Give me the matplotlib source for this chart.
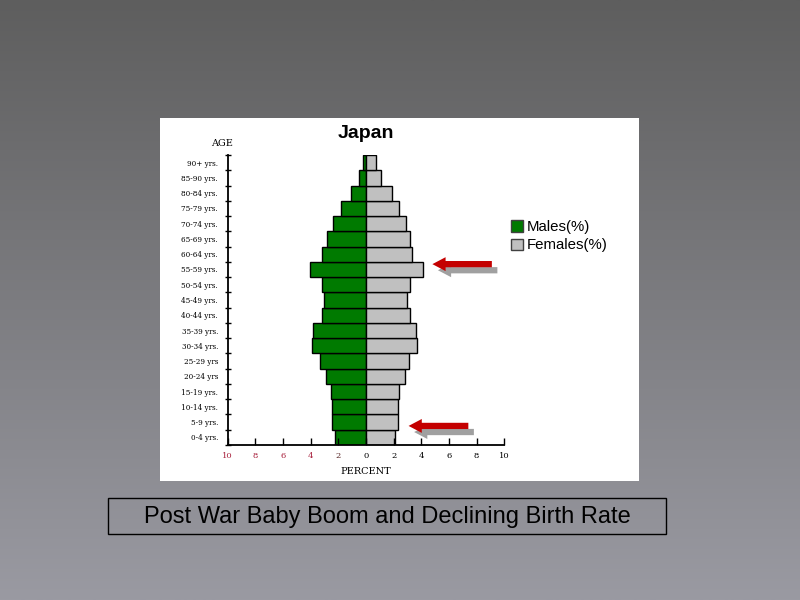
import numpy as np
import matplotlib
matplotlib.use("Agg")
import matplotlib.pyplot as plt
from matplotlib.patches import Rectangle, Patch
from matplotlib.colors import LinearSegmentedColormap

# age groups from youngest to oldest
AGES = ["0-4 yrs.", "5-9 yrs.", "10-14 yrs.", "15-19 yrs.", "20-24 yrs", "25-29 yrs",
        "30-34 yrs.", "35-39 yrs.", "40-44 yrs.", "45-49 yrs.", "50-54 yrs.", "55-59 yrs.",
        "60-64 yrs.", "65-69 yrs.", "70-74 yrs.", "75-79 yrs.", "80-84 yrs.", "85-90 yrs.",
        "90+ yrs."]
MALES = [2.25, 2.45, 2.45, 2.55, 2.9, 3.3, 3.9, 3.85, 3.2, 3.05, 3.2, 4.05,
         3.2, 2.85, 2.4, 1.8, 1.1, 0.5, 0.25]
FEMALES = [2.1, 2.3, 2.3, 2.4, 2.8, 3.1, 3.7, 3.65, 3.15, 3.0, 3.2, 4.15,
           3.35, 3.15, 2.9, 2.4, 1.85, 1.1, 0.75]
XTICKS = [-10, -8, -6, -4, -2, 0, 2, 4, 6, 8, 10]
# arrows: (tip x, tail x, y) in percent / age index
ARROWS = [(4.8, 9.1, 11.35), (3.08, 7.4, 0.75)]

fig = plt.figure(figsize=(8, 6), dpi=100)

# grey gradient background
bg = fig.add_axes([0, 0, 1, 1], zorder=-10)
cmap = LinearSegmentedColormap.from_list("bg", ["#5e5e5e", "#9a9aa2"])
bg.imshow(np.linspace(0, 1, 256).reshape(-1, 1), aspect="auto", cmap=cmap,
          extent=[0, 1, 0, 1])
bg.set_xlim(0, 1)
bg.set_ylim(0, 1)
bg.axis("off")

# white panel behind the chart
fig.patches.append(Rectangle((160 / 800, 1 - 481 / 600), 479 / 800, 363 / 600,
                             transform=fig.transFigure, facecolor="white",
                             edgecolor="none", zorder=-5))

ax = fig.add_axes([227.7 / 800, 1 - 445 / 600, 276.6 / 800, 290 / 600])
ax.patch.set_alpha(0)
y = np.arange(len(AGES))
ax.barh(y, [-m for m in MALES], height=1, color="#007a00", edgecolor="black", linewidth=1)
ax.barh(y, FEMALES, height=1, color="#c0c0c0", edgecolor="black", linewidth=1)

ax.set_xlim(-10, 10)
ax.set_ylim(-0.5, len(AGES) - 0.5)
for s in ["top", "right"]:
    ax.spines[s].set_visible(False)
for s in ["left", "bottom"]:
    ax.spines[s].set_linewidth(1.3)

ax.set_yticks(y)
ax.set_yticklabels(AGES, family="DejaVu Serif", fontsize=5.2)
ax.set_yticks(np.arange(-0.5, len(AGES)), minor=True)
ax.tick_params(axis="y", which="major", length=0, pad=7)
ax.tick_params(axis="y", which="minor", direction="inout", length=5, width=1)

ax.set_xticks(XTICKS)
ax.set_xticklabels([str(abs(t)) for t in XTICKS], family="DejaVu Serif", fontsize=6)
ax.tick_params(axis="x", direction="in", length=5, width=1, pad=5)
for lab, t in zip(ax.get_xticklabels(), XTICKS):
    if t <= -4:
        lab.set_color("#a8203c")
    elif t == -2:
        lab.set_color("#5a2828")
ax.set_xlabel("PERCENT", family="DejaVu Serif", fontsize=7, labelpad=5)

fig.text(222 / 800, 1 - 144 / 600, "AGE", family="DejaVu Serif", fontsize=7,
         ha="center", va="center")
fig.text(366 / 800, 1 - 133 / 600, "Japan", family="Liberation Sans", fontsize=14,
         weight="bold", ha="center", va="center")

handles = [Patch(facecolor="#007a00", edgecolor="#404040", label="Males(%)"),
           Patch(facecolor="#c0c0c0", edgecolor="#404040", label="Females(%)")]
fig.legend(handles=handles, loc="upper left", bbox_to_anchor=(511 / 800, 1 - 220 / 600),
           frameon=False, prop={"family": "Liberation Sans", "size": 10.8},
           handlelength=0.8, handleheight=0.8, handletextpad=0.25,
           labelspacing=0.3, borderpad=0, borderaxespad=0)

# red arrows with grey drop shadow
style = "simple,head_width=1.0,head_length=0.95,tail_width=0.45"
for tip, tail, yy in ARROWS:
    ax.annotate("", xy=(tip + 0.4, yy - 0.4), xytext=(tail + 0.4, yy - 0.4),
                annotation_clip=False,
                arrowprops=dict(arrowstyle=style, mutation_scale=10, fc="#a0a0a0",
                                ec="none", shrinkA=0, shrinkB=0))
    ax.annotate("", xy=(tip, yy), xytext=(tail, yy), annotation_clip=False,
                arrowprops=dict(arrowstyle=style, mutation_scale=10, fc="#c40000",
                                ec="none", shrinkA=0, shrinkB=0))

# caption box
fig.patches.append(Rectangle((108 / 800, 1 - 534 / 600), 558 / 800, 36 / 600,
                             transform=fig.transFigure, facecolor="none",
                             edgecolor="black", linewidth=1))
fig.text(387 / 800, 1 - 517 / 600, "Post War Baby Boom and Declining Birth Rate",
         family="Liberation Sans", fontsize=17, ha="center", va="center")

fig.savefig("out.png", dpi=100)
